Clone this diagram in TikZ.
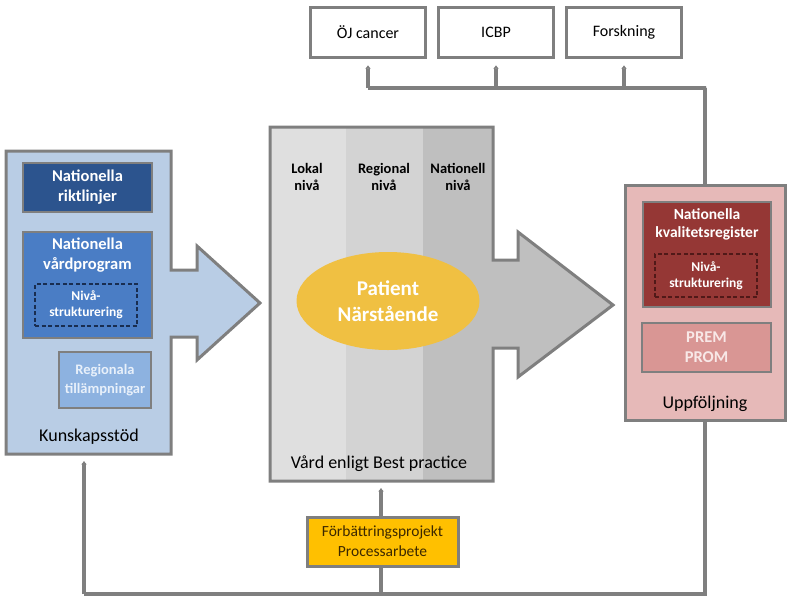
\documentclass[tikz,border=0pt]{standalone}
\usepackage{fontspec}
\setmainfont{Carlito}
\usetikzlibrary{arrows.meta,shapes.geometric}
\definecolor{lg}{RGB}{127,127,127}
\definecolor{kbg}{RGB}{185,205,229}
\definecolor{riktl}{RGB}{44,84,142}
\definecolor{vardp}{RGB}{74,125,197}
\definecolor{regbl}{RGB}{141,178,224}
\definecolor{regtxt}{RGB}{232,240,250}
\definecolor{navy}{RGB}{25,45,80}
\definecolor{colA}{RGB}{223,223,223}
\definecolor{colB}{RGB}{211,211,211}
\definecolor{colC}{RGB}{191,191,191}
\definecolor{ellc}{RGB}{240,192,66}
\definecolor{ubg}{RGB}{230,185,184}
\definecolor{kvreg}{RGB}{149,55,53}
\definecolor{darkred}{RGB}{80,25,24}
\definecolor{premc}{RGB}{217,150,148}
\definecolor{premt}{RGB}{248,232,231}
\definecolor{forbc}{RGB}{255,192,0}
\definecolor{forbt}{RGB}{60,40,0}
\begin{document}
\begin{tikzpicture}[x=1pt,y=-1pt,
  bigline/.style={draw=lg,line width=3pt,line join=miter},
  boxstyle/.style={rectangle,draw=lg,line width=3pt,inner sep=0pt,align=center},
  topbox/.style={boxstyle,fill=white,minimum width=115pt,minimum height=50pt,font=\fontsize{16}{19}\selectfont},
  innerbox/.style={rectangle,draw=lg,line width=1.5pt,inner sep=0pt,align=center,font=\bfseries\fontsize{16.5}{20}\selectfont},
  dashbox/.style={rectangle,dashed,line width=1.8pt,dash pattern=on 4pt off 2.5pt,inner sep=0pt,align=center,font=\bfseries\fontsize{13.5}{16}\selectfont,text=white},
  levellbl/.style={align=center,font=\bfseries\fontsize{14.5}{17}\selectfont},
  biglbl/.style={font=\fontsize{18}{21}\selectfont},
  conn/.style={draw=lg,line width=4pt},
  arr/.style={conn,-{Latex[length=4pt,width=6.5pt,round]},shorten >=7pt}
]
\useasboundingbox (0,0) rectangle (792,603);

% ---------- left: Kunskapsstöd ----------
\draw[bigline,fill=kbg] (6,151) -- (171,151) -- (171,270) -- (197,270) -- (197,246)
  -- (260,303) -- (197,360) -- (197,337) -- (171,337) -- (171,454) -- (6,454) -- cycle;
\node[minimum width=165pt,minimum height=303pt,inner sep=0pt] (kunsk) at (88.5,302.5) {};
\node[innerbox,fill=riktl,text=white,minimum width=129pt,minimum height=49pt] (riktl) at (87.5,187.5) {Nationella\\riktlinjer};
\node[innerbox,fill=vardp,minimum width=129pt,minimum height=106pt] (vardpr) at (87.5,285) {};
\node[font=\bfseries\fontsize{16.5}{20.5}\selectfont,text=white,align=center,anchor=north] (vardtxt) at (87.5,234) {Nationella\\vårdprogram};
\node[dashbox,draw=navy,minimum width=102pt,minimum height=42pt] (niva1) at (86,305) {Nivå-\\strukturering};
\node[innerbox,fill=regbl,text=regtxt,minimum width=92pt,minimum height=56pt,font=\bfseries\fontsize{14.5}{18.5}\selectfont] (regtill) at (105,380) {Regionala\\tillämpningar};
\node[biglbl] (kunsklbl) at (89,437) {Kunskapsstöd};

% ---------- middle: Vård enligt Best practice ----------
\fill[colC] (270,127) -- (493,127) -- (493,260) -- (518,260) -- (518,232) -- (613,305)
  -- (518,377) -- (518,348) -- (493,348) -- (493,481) -- (270,481) -- cycle;
\fill[colA] (270,127) rectangle (346,481);
\fill[colB] (346,127) rectangle (423,481);
\draw[bigline] (270,127) -- (493,127) -- (493,260) -- (518,260) -- (518,232) -- (613,305)
  -- (518,377) -- (518,348) -- (493,348) -- (493,481) -- (270,481) -- cycle;
\node[minimum width=223pt,minimum height=354pt,inner sep=0pt] (vard) at (381.5,304) {};
\node[levellbl] (lokal) at (307,177) {Lokal\\nivå};
\node[levellbl] (regniva) at (384,177) {Regional\\nivå};
\node[levellbl] (natniva) at (458,177) {Nationell\\nivå};
\node[ellipse,fill=ellc,minimum width=183pt,minimum height=98pt,inner sep=0pt,text=white,align=center,font=\bfseries\fontsize{21}{25.5}\selectfont] (patient) at (388,301) {Patient\\Närstående};
\node[biglbl] (vardlbl) at (379,464) {Vård enligt Best practice};

% ---------- right: Uppföljning ----------
\node[boxstyle,fill=ubg,minimum width=160pt,minimum height=235pt] (uppf) at (705,302.5) {};
\node[innerbox,fill=kvreg,minimum width=128pt,minimum height=105pt] (kvalreg) at (707,254.5) {};
\node[font=\bfseries\fontsize{15.5}{18.5}\selectfont,text=white,align=center,anchor=north] (kvaltxt) at (707,205) {Nationella\\kvalitetsregister};
\node[dashbox,draw=darkred,minimum width=102pt,minimum height=43pt] (niva2) at (706,275.5) {Nivå-\\strukturering};
\node[innerbox,fill=premc,text=premt,minimum width=129pt,minimum height=49pt,font=\bfseries\fontsize{16.5}{20}\selectfont] (prem) at (706.5,347.5) {PREM\\PROM};
\node[biglbl] (uppflbl) at (705,404) {Uppföljning};

% ---------- top boxes ----------
\node[topbox] (oj) at (368,32) {ÖJ cancer};
\node[topbox] (icbp) at (496,32) {ICBP};
\node[topbox] (forsk) at (624,32) {Forskning};

% ---------- improvement box ----------
\coordinate (bus) at (381,594);
\draw[conn] (bus) -- (381,560);
\node[boxstyle,fill=forbc,text=forbt,minimum width=151pt,minimum height=49pt,font=\fontsize{15.5}{20}\selectfont] (forb) at (382.5,541.5) {Förbättringsprojekt\\Processarbete};

% ---------- connectors ----------
\coordinate (topbus) at (706,88);
\draw[conn] (uppf.north) |- (topbus) -- (oj.south |- topbus);
\draw[arr] (oj.south |- topbus) -- (oj.south);
\draw[arr] (icbp.south |- topbus) -- (icbp.south);
\draw[arr] (forsk.south |- topbus) -- (forsk.south);

\coordinate (bl) at (84,594);
\draw[conn] (uppf.south) |- (bl);
\draw[arr] (bl) -- (bl |- kunsk.south);
\draw[arr] (forb.north -| bus) -- (bus |- vard.south);
\end{tikzpicture}
\end{document}
